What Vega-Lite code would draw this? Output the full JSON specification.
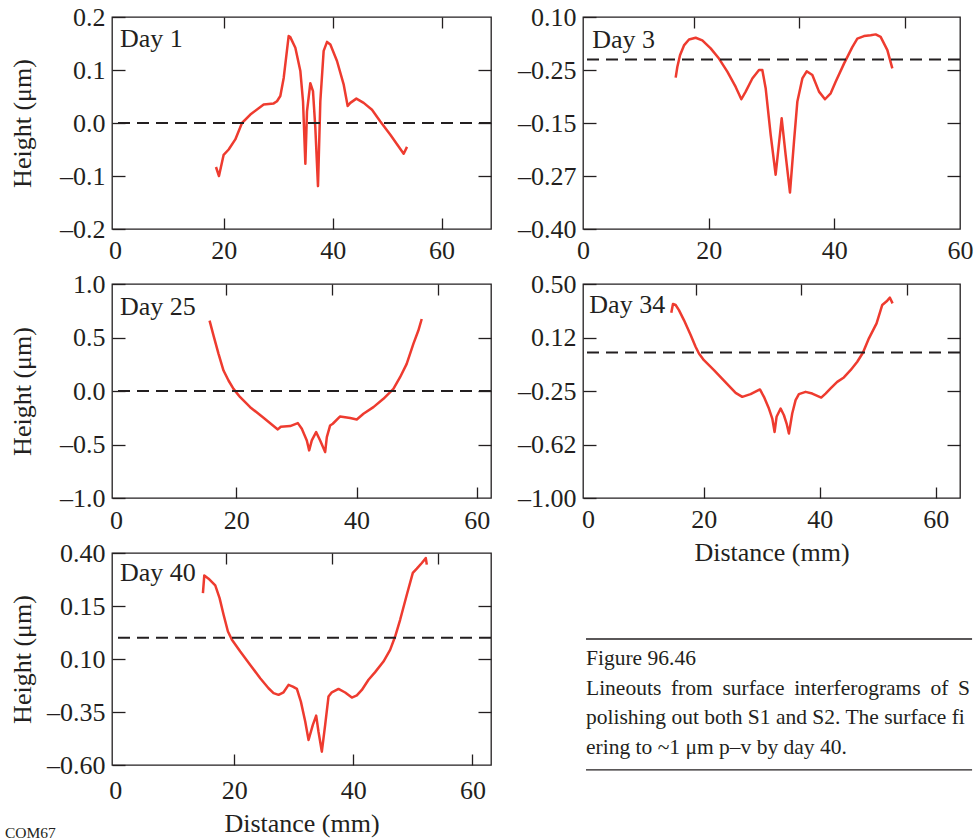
{
  "$schema": "https://vega.github.io/schema/vega-lite/v6.json",
  "padding": {"left": 4, "top": 3, "right": 0, "bottom": 0},
  "columns": 2,
  "spacing": {"row": 55, "column": 92},
  "bounds": "flush",
  "config": {
    "font": "Liberation Serif",
    "view": {"stroke": "#231f20", "strokeWidth": 1.3},
    "axis": {"grid": false, "domain": false, "labelFont": "Liberation Serif", "labelFontSize": 26, "labelColor": "#231f20", "titleFont": "Liberation Serif", "titleFontSize": 26, "titleFontWeight": "normal", "titleColor": "#231f20", "tickColor": "#231f20", "tickWidth": 1.3, "labelFlush": false, "labelOverlap": false},
    "text": {"font": "Liberation Serif", "color": "#231f20"}
  },
  "datasets": {
    "day1": [
      {"x":18.55,"y":-0.083},{"x":19.1,"y":-0.100},{"x":19.96,"y":-0.060},{"x":20.88,"y":-0.050},{"x":22.1,"y":-0.031},{"x":23.33,"y":0.0},{"x":24.86,"y":0.016},{"x":27.31,"y":0.035},{"x":29.15,"y":0.037},{"x":29.76,"y":0.041},{"x":30.37,"y":0.051},{"x":30.99,"y":0.085},{"x":31.9,"y":0.164},{"x":32.2,"y":0.162},{"x":33.13,"y":0.142},{"x":34.05,"y":0.098},{"x":34.54,"y":0.041},{"x":34.97,"y":-0.077},{"x":35.27,"y":0.022},{"x":35.88,"y":0.075},{"x":36.37,"y":0.060},{"x":36.8,"y":-0.009},{"x":37.29,"y":-0.119},{"x":37.72,"y":0.041},{"x":38.33,"y":0.136},{"x":38.95,"y":0.153},{"x":39.56,"y":0.148},{"x":40.78,"y":0.117},{"x":42.0,"y":0.073},{"x":42.74,"y":0.032},{"x":43.23,"y":0.038},{"x":44.34,"y":0.046},{"x":45.68,"y":0.038},{"x":47.21,"y":0.025},{"x":48.74,"y":0.003},{"x":50.58,"y":-0.022},{"x":53.03,"y":-0.058},{"x":53.64,"y":-0.045}
    ],
    "day3": [
      {"x":14.75,"y":-0.043},{"x":15.01,"y":-0.018},{"x":15.44,"y":0.010},{"x":16.07,"y":0.033},{"x":16.87,"y":0.047},{"x":17.93,"y":0.051},{"x":18.99,"y":0.045},{"x":20.32,"y":0.026},{"x":21.64,"y":0.002},{"x":22.97,"y":-0.029},{"x":24.3,"y":-0.065},{"x":25.2,"y":-0.094},{"x":25.89,"y":-0.076},{"x":26.95,"y":-0.045},{"x":28.01,"y":-0.025},{"x":28.54,"y":-0.025},{"x":29.07,"y":-0.068},{"x":29.87,"y":-0.178},{"x":30.66,"y":-0.272},{"x":31.62,"y":-0.139},{"x":32.25,"y":-0.225},{"x":32.94,"y":-0.314},{"x":33.58,"y":-0.194},{"x":34.11,"y":-0.100},{"x":34.91,"y":-0.045},{"x":35.6,"y":-0.028},{"x":36.5,"y":-0.037},{"x":37.56,"y":-0.076},{"x":38.51,"y":-0.094},{"x":39.42,"y":-0.080},{"x":40.21,"y":-0.053},{"x":41.54,"y":-0.010},{"x":42.86,"y":0.029},{"x":43.66,"y":0.049},{"x":44.72,"y":0.055},{"x":45.78,"y":0.057},{"x":46.58,"y":0.059},{"x":47.37,"y":0.053},{"x":48.44,"y":0.022},{"x":49.23,"y":-0.021}
    ],
    "day25": [
      {"x":15.56,"y":0.658},{"x":16.22,"y":0.518},{"x":17.05,"y":0.347},{"x":17.88,"y":0.191},{"x":18.71,"y":0.098},{"x":19.54,"y":0.020},{"x":20.65,"y":-0.058},{"x":22.31,"y":-0.151},{"x":24.53,"y":-0.250},{"x":26.91,"y":-0.359},{"x":27.41,"y":-0.334},{"x":28.96,"y":-0.328},{"x":30.24,"y":-0.300},{"x":30.9,"y":-0.353},{"x":31.73,"y":-0.462},{"x":32.12,"y":-0.555},{"x":32.56,"y":-0.462},{"x":33.28,"y":-0.384},{"x":33.95,"y":-0.462},{"x":34.78,"y":-0.571},{"x":35.06,"y":-0.431},{"x":35.61,"y":-0.322},{"x":36.05,"y":-0.306},{"x":37.27,"y":-0.238},{"x":38.94,"y":-0.253},{"x":40.04,"y":-0.266},{"x":41.15,"y":-0.213},{"x":42.81,"y":-0.151},{"x":44.47,"y":-0.073},{"x":46.13,"y":0.020},{"x":47.24,"y":0.129},{"x":48.34,"y":0.254},{"x":49.45,"y":0.440},{"x":50.28,"y":0.565},{"x":50.84,"y":0.673}
    ],
    "day34": [
      {"x":14.38,"y":0.299},{"x":14.67,"y":0.360},{"x":15.13,"y":0.353},{"x":15.7,"y":0.317},{"x":16.56,"y":0.247},{"x":17.72,"y":0.142},{"x":18.57,"y":0.060},{"x":19.15,"y":0.013},{"x":20.01,"y":-0.034},{"x":21.74,"y":-0.104},{"x":24.04,"y":-0.202},{"x":25.48,"y":-0.263},{"x":26.62,"y":-0.291},{"x":28.06,"y":-0.272},{"x":29.67,"y":-0.239},{"x":30.36,"y":-0.291},{"x":31.22,"y":-0.373},{"x":31.8,"y":-0.443},{"x":32.2,"y":-0.537},{"x":32.54,"y":-0.431},{"x":33.24,"y":-0.373},{"x":33.81,"y":-0.420},{"x":34.27,"y":-0.478},{"x":34.67,"y":-0.548},{"x":35.24,"y":-0.408},{"x":35.82,"y":-0.314},{"x":36.39,"y":-0.272},{"x":37.54,"y":-0.256},{"x":38.69,"y":-0.268},{"x":40.24,"y":-0.296},{"x":40.99,"y":-0.268},{"x":41.86,"y":-0.232},{"x":43.0,"y":-0.186},{"x":44.15,"y":-0.155},{"x":45.3,"y":-0.104},{"x":46.46,"y":-0.045},{"x":47.43,"y":0.018},{"x":48.47,"y":0.119},{"x":49.79,"y":0.224},{"x":50.77,"y":0.353},{"x":51.63,"y":0.383},{"x":52.09,"y":0.404},{"x":52.55,"y":0.364}
    ],
    "day40": [
      {"x":14.74,"y":0.211},{"x":14.97,"y":0.294},{"x":15.69,"y":0.279},{"x":16.81,"y":0.247},{"x":17.54,"y":0.187},{"x":18.21,"y":0.109},{"x":18.94,"y":0.030},{"x":19.61,"y":-0.009},{"x":21.01,"y":-0.065},{"x":22.69,"y":-0.128},{"x":24.36,"y":-0.191},{"x":25.76,"y":-0.238},{"x":26.6,"y":-0.261},{"x":27.44,"y":-0.269},{"x":28.28,"y":-0.257},{"x":29.12,"y":-0.222},{"x":29.84,"y":-0.230},{"x":30.52,"y":-0.241},{"x":31.19,"y":-0.301},{"x":31.92,"y":-0.395},{"x":32.48,"y":-0.482},{"x":33.2,"y":-0.411},{"x":33.76,"y":-0.367},{"x":34.15,"y":-0.443},{"x":34.71,"y":-0.537},{"x":35.27,"y":-0.411},{"x":35.83,"y":-0.277},{"x":36.39,"y":-0.257},{"x":37.51,"y":-0.241},{"x":38.63,"y":-0.258},{"x":39.75,"y":-0.282},{"x":40.59,"y":-0.272},{"x":41.43,"y":-0.246},{"x":42.55,"y":-0.198},{"x":43.66,"y":-0.162},{"x":45.06,"y":-0.112},{"x":46.18,"y":-0.057},{"x":47.02,"y":0.006},{"x":47.86,"y":0.085},{"x":48.98,"y":0.203},{"x":49.99,"y":0.306},{"x":50.66,"y":0.326},{"x":51.5,"y":0.353},{"x":52.17,"y":0.376},{"x":52.34,"y":0.345}
    ],
    "caption": [
      {"line": 1, "text": "Figure 96.46"},
      {"line": 2, "text": "Lineouts \u2009from \u2009surface \u2009interferograms \u2009of \u2009S"},
      {"line": 3, "text": "polishing out both S1 and S2. The surface figure"},
      {"line": 4, "text": "ering to ~1 μm p–v by day 40."}
    ]
  },
  "concat": [
    {
      "width": 379, "height": 212,
      "layer": [
        {"data": {"name": "day1"}, "mark": {"type": "line", "color": "#ee3b2f", "strokeWidth": 2.5, "strokeJoin": "round"},
         "encoding": {
           "x": {"field": "x", "type": "quantitative", "scale": {"domain": [-0.55, 69.07], "nice": false, "zero": false},
                 "axis": {"orient": "bottom", "values": [0, 20, 40, 60], "tickSize": -11, "labelPadding": 19, "title": null, "format": "d", "tickOpacity": {"condition": {"test": "datum.value == 0", "value": 0}, "value": 1}}},
           "y": {"field": "y", "type": "quantitative", "scale": {"domain": [-0.2, 0.2], "nice": false, "zero": false},
                 "axis": {"orient": "left", "values": [-0.2, -0.1, 0, 0.1, 0.2], "tickSize": -13, "labelPadding": 20, "title": "Height (μm)", "titlePadding": 24,
                          "labelExpr": "datum.value > 0.15 ? '0.2' : datum.value > 0.05 ? '0.1' : datum.value > -0.05 ? '0.0' : datum.value > -0.15 ? '–0.1' : '–0.2'"}}
         }},
        {"data": {"values": [{}]}, "mark": {"type": "rule", "color": "#231f20", "strokeWidth": 2, "strokeDash": [12, 7]},
         "encoding": {"y": {"datum": 0, "type": "quantitative", "axis": {"orient": "right", "values": [-0.1, 0, 0.1], "labels": false, "tickSize": -13, "title": null}}}},
        {"data": {"values": [{}]}, "mark": {"type": "text", "align": "left", "baseline": "middle", "fontSize": 26},
         "encoding": {
           "x": {"datum": 0.92, "type": "quantitative", "axis": {"orient": "top", "values": [20, 40, 60], "labels": false, "tickSize": -11, "title": null}},
           "y": {"datum": 0.158, "type": "quantitative", "axis": null},
           "text": {"value": "Day 1"}}}
      ],
      "resolve": {"axis": {"x": "independent", "y": "independent"}}
    },
    {
      "width": 377, "height": 212,
      "layer": [
        {"data": {"name": "day3"}, "mark": {"type": "line", "color": "#ee3b2f", "strokeWidth": 2.5, "strokeJoin": "round"},
         "encoding": {
           "x": {"field": "x", "type": "quantitative", "scale": {"domain": [0, 60], "nice": false, "zero": false},
                 "axis": {"orient": "bottom", "values": [0, 20, 40, 60], "tickSize": -11, "labelPadding": 19, "title": null, "format": "d", "tickOpacity": {"condition": {"test": "datum.value == 0 || datum.value == 60", "value": 0}, "value": 1}}},
           "y": {"field": "y", "type": "quantitative", "scale": {"domain": [-0.4, 0.1], "nice": false, "zero": false},
                 "axis": {"orient": "left", "values": [0.1, -0.025, -0.15, -0.275, -0.4], "tickSize": -13, "labelPadding": 20, "title": null,
                          "labelExpr": "datum.value > 0.05 ? '0.10' : datum.value > -0.08 ? '–0.25' : datum.value > -0.2 ? '–0.15' : datum.value > -0.33 ? '–0.27' : '–0.40'"}}
         }},
        {"data": {"values": [{}]}, "mark": {"type": "rule", "color": "#231f20", "strokeWidth": 2, "strokeDash": [12, 7]},
         "encoding": {"y": {"datum": 0, "type": "quantitative", "axis": {"orient": "right", "values": [-0.025, -0.15, -0.275], "labels": false, "tickSize": -13, "title": null}}}},
        {"data": {"values": [{}]}, "mark": {"type": "text", "align": "left", "baseline": "middle", "fontSize": 26},
         "encoding": {
           "x": {"datum": 1.48, "type": "quantitative", "axis": {"orient": "top", "values": [17.67, 34.4, 51.3], "labels": false, "tickSize": -11, "title": null}},
           "y": {"datum": 0.046, "type": "quantitative", "axis": null},
           "text": {"value": "Day 3"}}}
      ],
      "resolve": {"axis": {"x": "independent", "y": "independent"}}
    },
    {
      "width": 379, "height": 214,
      "layer": [
        {"data": {"name": "day25"}, "mark": {"type": "line", "color": "#ee3b2f", "strokeWidth": 2.5, "strokeJoin": "round"},
         "encoding": {
           "x": {"field": "x", "type": "quantitative", "scale": {"domain": [-0.665, 62.36], "nice": false, "zero": false},
                 "axis": {"orient": "bottom", "values": [0, 20, 40, 60], "tickSize": -11, "labelPadding": 20, "title": null, "format": "d", "tickOpacity": {"condition": {"test": "datum.value == 0", "value": 0}, "value": 1}}},
           "y": {"field": "y", "type": "quantitative", "scale": {"domain": [-1, 1], "nice": false, "zero": false},
                 "axis": {"orient": "left", "values": [1, 0.5, 0, -0.5, -1], "tickSize": -13, "labelPadding": 20, "title": "Height (μm)", "titlePadding": 24,
                          "labelExpr": "datum.value > 0.75 ? '1.0' : datum.value > 0.25 ? '0.5' : datum.value > -0.25 ? '0.0' : datum.value > -0.75 ? '–0.5' : '–1.0'"}}
         }},
        {"data": {"values": [{}]}, "mark": {"type": "rule", "color": "#231f20", "strokeWidth": 2, "strokeDash": [12, 7]},
         "encoding": {"y": {"datum": 0, "type": "quantitative", "axis": {"orient": "right", "values": [-0.5, 0, 0.5], "labels": false, "tickSize": -13, "title": null}}}},
        {"data": {"values": [{}]}, "mark": {"type": "text", "align": "left", "baseline": "middle", "fontSize": 26},
         "encoding": {
           "x": {"datum": 0.665, "type": "quantitative", "axis": {"orient": "top", "values": [18.33, 35.89, 53.6], "labels": false, "tickSize": -11, "title": null}},
           "y": {"datum": 0.785, "type": "quantitative", "axis": null},
           "text": {"value": "Day 25"}}}
      ],
      "resolve": {"axis": {"x": "independent", "y": "independent"}}
    },
    {
      "width": 377, "height": 214,
      "layer": [
        {"data": {"name": "day34"}, "mark": {"type": "line", "color": "#ee3b2f", "strokeWidth": 2.5, "strokeJoin": "round"},
         "encoding": {
           "x": {"field": "x", "type": "quantitative", "scale": {"domain": [-0.85, 64.18], "nice": false, "zero": false},
                 "axis": {"orient": "bottom", "values": [0, 20, 40, 60], "tickSize": -11, "labelPadding": 19, "title": "Distance (mm)", "titlePadding": 7, "format": "d", "tickOpacity": {"condition": {"test": "datum.value == 0", "value": 0}, "value": 1}}},
           "y": {"field": "y", "type": "quantitative", "scale": {"domain": [-1, 0.5], "nice": false, "zero": false},
                 "axis": {"orient": "left", "values": [0.5, 0.125, -0.25, -0.625, -1], "tickSize": -13, "labelPadding": 20, "title": null,
                          "labelExpr": "datum.value > 0.3 ? '0.50' : datum.value > -0.1 ? '0.12' : datum.value > -0.4 ? '–0.25' : datum.value > -0.8 ? '–0.62' : '–1.00'"}}
         }},
        {"data": {"values": [{}]}, "mark": {"type": "rule", "color": "#231f20", "strokeWidth": 2, "strokeDash": [12, 7]},
         "encoding": {"y": {"datum": 0.02, "type": "quantitative", "axis": {"orient": "right", "values": [0.125, -0.25, -0.625], "labels": false, "tickSize": -13, "title": null}}}},
        {"data": {"values": [{}]}, "mark": {"type": "text", "align": "left", "baseline": "middle", "fontSize": 26},
         "encoding": {
           "x": {"datum": 0.24, "type": "quantitative", "axis": {"orient": "top", "values": [18.57, 36.8, 55.08], "labels": false, "tickSize": -11, "title": null}},
           "y": {"datum": 0.353, "type": "quantitative", "axis": null},
           "text": {"value": "Day 34"}}}
      ],
      "resolve": {"axis": {"x": "independent", "y": "independent"}}
    },
    {
      "width": 379, "height": 212,
      "layer": [
        {"data": {"name": "day40"}, "mark": {"type": "line", "color": "#ee3b2f", "strokeWidth": 2.5, "strokeJoin": "round"},
         "encoding": {
           "x": {"field": "x", "type": "quantitative", "scale": {"domain": [-0.53, 63.12], "nice": false, "zero": false},
                 "axis": {"orient": "bottom", "values": [0, 20, 40, 60], "tickSize": -11, "labelPadding": 23, "title": "Distance (mm)", "titlePadding": 7, "format": "d", "tickOpacity": {"condition": {"test": "datum.value == 0", "value": 0}, "value": 1}}},
           "y": {"field": "y", "type": "quantitative", "scale": {"domain": [-0.6, 0.4], "nice": false, "zero": false},
                 "axis": {"orient": "left", "values": [0.4, 0.15, -0.1, -0.35, -0.6], "tickSize": -13, "labelPadding": 20, "title": "Height (μm)", "titlePadding": 11,
                          "labelExpr": "datum.value > 0.3 ? '0.40' : datum.value > 0 ? '0.15' : datum.value > -0.2 ? '0.10' : datum.value > -0.5 ? '–0.35' : '–0.60'"}}
         }},
        {"data": {"values": [{}]}, "mark": {"type": "rule", "color": "#231f20", "strokeWidth": 2, "strokeDash": [12, 7]},
         "encoding": {"y": {"datum": 0, "type": "quantitative", "axis": {"orient": "right", "values": [0.15, -0.1, -0.35], "labels": false, "tickSize": -13, "title": null}}}},
        {"data": {"values": [{}]}, "mark": {"type": "text", "align": "left", "baseline": "middle", "fontSize": 26},
         "encoding": {
           "x": {"datum": 0.81, "type": "quantitative", "axis": {"orient": "top", "values": [18.66, 36.39, 54.29], "labels": false, "tickSize": -11, "title": null}},
           "y": {"datum": 0.306, "type": "quantitative", "axis": null},
           "text": {"value": "Day 40"}}},
        {"data": {"values": [{}]}, "mark": {"type": "text", "align": "left", "baseline": "middle", "fontSize": 15.5},
         "encoding": {
           "x": {"datum": -18.5, "type": "quantitative", "axis": null},
           "y": {"datum": -0.92, "type": "quantitative", "axis": null},
           "text": {"value": "COM67"}}}
      ],
      "resolve": {"axis": {"x": "independent", "y": "independent"}}
    },
    {
      "width": 377, "height": 212,
      "view": {"stroke": null},
      "layer": [
        {"data": {"name": "caption"}, "mark": {"type": "text", "align": "left", "baseline": "middle", "fontSize": 21.5, "limit": 386, "ellipsis": "\u200b"},
         "encoding": {
           "x": {"datum": 0.008, "type": "quantitative", "scale": {"domain": [0, 1], "nice": false, "zero": false}, "axis": null},
           "y": {"field": "line", "type": "quantitative", "scale": {"domain": [-2.593, 4.593], "reverse": true, "nice": false, "zero": false}, "axis": null},
           "text": {"field": "text"}}},
        {"data": {"values": [{}]}, "mark": {"type": "rule", "color": "#231f20", "strokeWidth": 1.3},
         "encoding": {"x": {"datum": 0.008, "type": "quantitative", "axis": null}, "x2": {"datum": 1.032}, "y": {"datum": 0.322, "type": "quantitative", "axis": null}}},
        {"data": {"values": [{}]}, "mark": {"type": "rule", "color": "#231f20", "strokeWidth": 1.3},
         "encoding": {"x": {"datum": 0.008, "type": "quantitative", "axis": null}, "x2": {"datum": 1.032}, "y": {"datum": 4.756, "type": "quantitative", "axis": null}}}
      ]
    }
  ]
}
